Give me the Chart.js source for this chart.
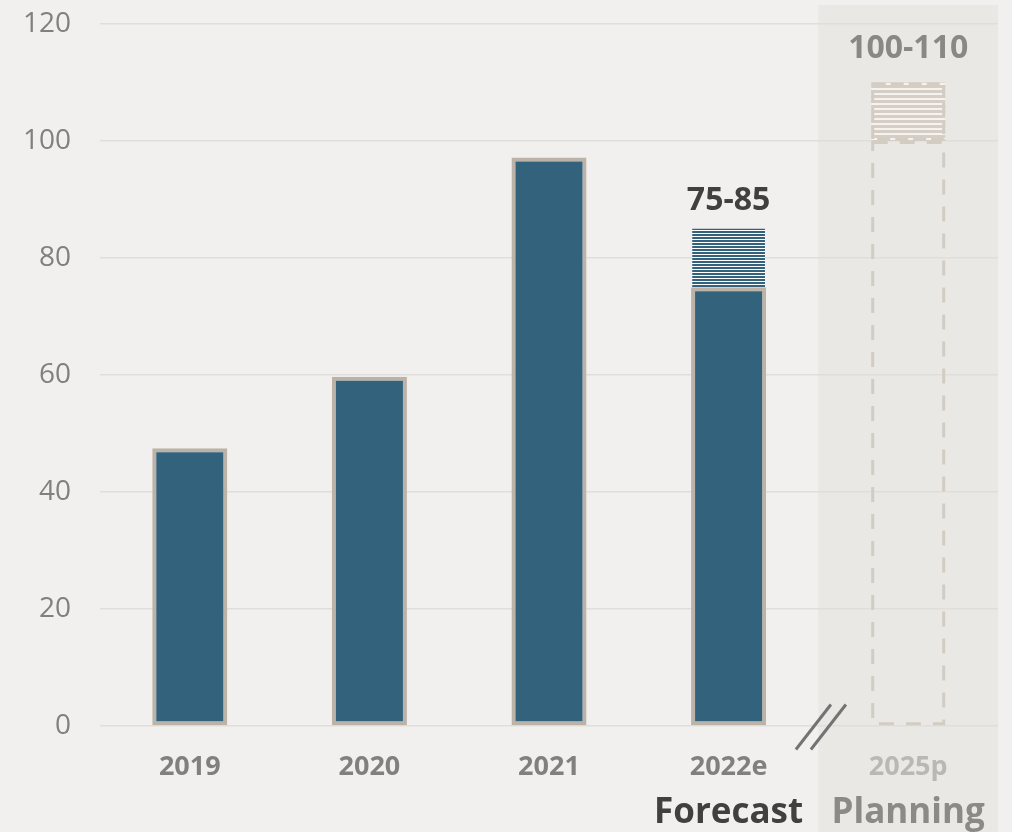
<!DOCTYPE html>
<html>
<head>
<meta charset="utf-8">
<script src="https://cdn.jsdelivr.net/npm/chart.js@4/dist/chart.umd.min.js"></script>
<style>
  html, body { margin: 0; padding: 0; background: #f2f0ee; }
  #wrap { width: 1012px; height: 832px; }
</style>
</head>
<body>
<div id="wrap"><canvas id="chart" width="1012" height="832"></canvas></div>
<script>
// data ===================================
var years = ['2019', '2020', '2021', '2022e', '2025p'];
var actual = [47.5, 59.7, 97.2, 75, null];
var forecastRange = [null, null, null, [75, 85], null];
var planningBase = [null, null, null, null, 100];
var planningRange = [null, null, null, null, [100, 110]];
var rangeLabels = ['', '', '', '75-85', '100-110'];
var groupLabels = ['', '', '', 'Forecast', 'Planning'];
var yTicks = [0, 20, 40, 60, 80, 100, 120];

var FONT = "'Open Sans', sans-serif";
var BLUE = '#33627c';
var TAUPE = '#bcb3a8';
var DASH = '#d3ccc3';

// stripe patterns
function stripes(h, rows, bg, fg) {
  var c = document.createElement('canvas');
  c.width = 8; c.height = h;
  var g = c.getContext('2d');
  g.fillStyle = bg;
  g.fillRect(0, 0, 8, h);
  g.fillStyle = fg;
  g.fillRect(0, 0, 8, rows);
  return g.createPattern(c, 'repeat');
}
var blueHatch = stripes(3, 2, '#ffffff', BLUE);
var tanHatch = stripes(5, 3, '#f5f3f0', '#d6cec4');

// plugins
var planningPanel = {
  id: 'planningPanel',
  beforeDraw: function (chart) {
    var ctx = chart.ctx, x = chart.scales.x, area = chart.chartArea;
    var left = (x.getPixelForTick(3) + x.getPixelForTick(4)) / 2;
    ctx.save();
    ctx.fillStyle = '#eae8e5';
    ctx.fillRect(left, 5, area.right - left, chart.height - 5);
    ctx.restore();
  }
};

var dashedBoxes = {
  id: 'dashedBoxes',
  afterDatasetsDraw: function (chart) {
    var ctx = chart.ctx;
    [[2, [15, 12]], [3, [13, 5]]].forEach(function (d) {
      var meta = chart.getDatasetMeta(d[0]);
      meta.data.forEach(function (bar, i) {
        if (chart.data.datasets[d[0]].data[i] == null) return;
        var p = bar.getProps(['x', 'y', 'base', 'width'], true);
        var lw = 3;
        ctx.save();
        ctx.strokeStyle = DASH;
        ctx.lineWidth = lw;
        ctx.setLineDash(d[1]);
        ctx.strokeRect(p.x - p.width / 2 + lw / 2, p.y + lw / 2,
          p.width - lw, p.base - p.y - lw);
        ctx.restore();
      });
    });
  }
};

var extras = {
  id: 'extras',
  afterDraw: function (chart) {
    var ctx = chart.ctx, x = chart.scales.x, y = chart.scales.y;
    ctx.save();
    // range labels
    [[1, 19, '#404040'], [3, 25, '#8a8886']].forEach(function (d) {
      var meta = chart.getDatasetMeta(d[0]);
      meta.data.forEach(function (bar, i) {
        if (!rangeLabels[i] || chart.data.datasets[d[0]].data[i] == null) return;
        ctx.font = 'bold 32px ' + FONT;
        ctx.fillStyle = d[2];
        ctx.textAlign = 'center';
        ctx.textBaseline = 'alphabetic';
        ctx.fillText(rangeLabels[i], bar.x, bar.y - d[1]);
      });
    });
    // Forecast / Planning
    ctx.font = 'bold 35px ' + FONT;
    ctx.textAlign = 'center';
    ctx.textBaseline = 'alphabetic';
    groupLabels.forEach(function (t, i) {
      if (!t) return;
      ctx.fillStyle = i === 4 ? '#8c8a87' : '#404040';
      ctx.fillText(t, x.getPixelForTick(i), 823);
    });
    // axis break //
    var cx = (x.getPixelForTick(3) + x.getPixelForTick(4)) / 2;
    var cy = y.getPixelForValue(0) + 1;
    ctx.strokeStyle = '#737373';
    ctx.lineWidth = 3;
    [-5, 10].forEach(function (off) {
      ctx.beginPath();
      ctx.moveTo(cx + off - 17.5, cy + 22.5);
      ctx.lineTo(cx + off + 17.5, cy - 22.5);
      ctx.stroke();
    });
    ctx.restore();
  }
};

var data = {
  labels: years,
  datasets: [
    {
      label: 'actual',
      data: actual,
      backgroundColor: BLUE,
      borderColor: TAUPE,
      borderWidth: 4,
      borderSkipped: false,
      grouped: false,
      barPercentage: 0.418,
      categoryPercentage: 1
    },
    {
      label: 'forecast',
      data: forecastRange,
      backgroundColor: blueHatch,
      borderWidth: 0,
      grouped: false,
      barPercentage: 0.405,
      categoryPercentage: 1
    },
    {
      label: 'planning base',
      data: planningBase,
      backgroundColor: 'rgba(0,0,0,0)',
      borderWidth: 0,
      grouped: false,
      barPercentage: 0.412,
      categoryPercentage: 1
    },
    {
      label: 'planning',
      data: planningRange,
      backgroundColor: tanHatch,
      borderWidth: 0,
      grouped: false,
      barPercentage: 0.412,
      categoryPercentage: 1
    }
  ]
};

var config = {
  type: 'bar',
  data: data,
  options: {
    responsive: false,
    animation: false,
    layout: { padding: { top: 24, right: 14, left: 0, bottom: 0 } },
    plugins: {
      legend: { display: false },
      tooltip: { enabled: false }
    },
    scales: {
      x: {
        grid: { display: false, drawTicks: false },
        border: { display: false },
        ticks: {
          padding: 25,
          font: { family: FONT, size: 27, weight: 'bold' },
          color: function (c) { return c.index === 4 ? '#bab8b5' : '#808080'; }
        },
        afterFit: function (s) { s.height = 106; s.paddingLeft = 0; s.paddingRight = 0; }
      },
      y: {
        min: 0,
        max: 120,
        afterBuildTicks: function (s) { s.ticks = yTicks.map(function (v) { return { value: v }; }); },
        grid: { color: '#e0deda', lineWidth: 1.5, drawTicks: false },
        border: { display: false },
        ticks: {
          padding: 29,
          font: { family: FONT, size: 28 },
          color: '#808080'
        },
        afterFit: function (s) { s.width = 100; s.paddingTop = 0; s.paddingBottom = 0; }
      }
    }
  },
  plugins: [planningPanel, dashedBoxes, extras]
};

var myChart = new Chart(document.getElementById('chart'), config);
</script>
</body>
</html>
